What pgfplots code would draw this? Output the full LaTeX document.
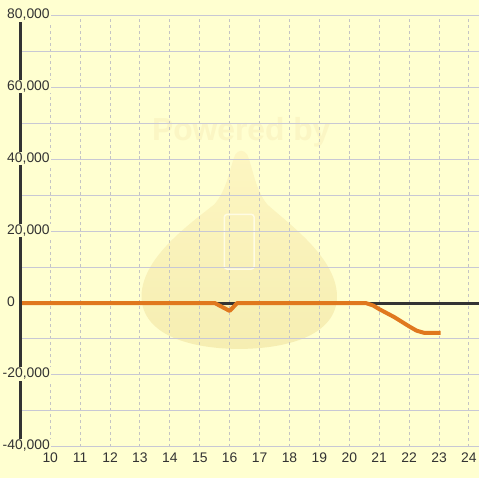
\documentclass[border=0pt]{standalone}
\usepackage{fontspec}
\setmainfont{Liberation Sans}
\usepackage{pgfplots}
\pgfplotsset{compat=1.18}
\definecolor{bgc}{RGB}{255,255,208}
\definecolor{orangeline}{RGB}{224,120,30}
\definecolor{axisdark}{RGB}{51,51,51}
\definecolor{hgrid}{RGB}{200,200,212}
\definecolor{vgrid}{RGB}{196,196,196}
\definecolor{wm}{RGB}{253,246,194}
\definecolor{wmdark}{RGB}{246,238,178}
\definecolor{wmtext}{RGB}{251,246,196}
\definecolor{wmline}{RGB}{255,252,228}
\definecolor{textc}{RGB}{51,51,51}
\tikzset{
  ylab/.style={anchor=west, xshift=-15bp, yshift=1bp, fill=bgc, inner sep=1bp, text=textc, font=\fontsize{14}{14}\selectfont},
  ylabn/.style={ylab, xshift=-4.5bp},
  xlab/.style={anchor=north, yshift=-6bp, inner sep=0pt, text=textc, font=\fontsize{14}{14}\selectfont},
}
\begin{document}
\begin{tikzpicture}
\begin{scope}[x=1bp,y=1bp]
\path[use as bounding box, fill=bgc] (0,0) rectangle (480,480);
\shade[top color=wm, bottom color=wmdark] (236,325) .. controls (240,330) and (244,330) .. (248,325) .. controls (254,310) and (256,290) .. (268,275) .. controls (290,255) and (340,220) .. (338,180) .. controls (335,140) and (280,130) .. (240,130) .. controls (200,130) and (145,140) .. (142,180) .. controls (140,220) and (190,255) .. (215,275) .. controls (228,290) and (230,310) .. (236,325) -- cycle;
\draw[wmline, line width=1.5bp, rounded corners=3bp] (225,210) rectangle (255,265);
\node[text=wmtext, font=\bfseries\fontsize{32}{32}\selectfont] at (242,347) {Powered by};
\end{scope}
\begin{axis}[
  at={(21bp,32bp)}, anchor=south west, scale only axis,
  width=459bp, height=432bp,
  xmin=9.02, xmax=24.32, ymin=-40000, ymax=80000,
  clip=false,
  axis line style={draw=none},
  scaled y ticks=false,
  xtick={10,...,24},
  xticklabels={},
  ytick={-40000,-20000,0,20000,40000,60000,80000},
  yticklabels={},
  minor ytick={-30000,-10000,10000,30000,50000,70000},
  xmajorgrids, ymajorgrids, yminorgrids,
  x grid style={vgrid, dash pattern=on 3bp off 3bp, line width=1bp},
  y grid style={hgrid, line width=1bp},
  minor y grid style={hgrid, line width=1bp},
  tick style={draw=none},
  major tick length=0pt, minor tick length=0pt,
]
\draw[axisdark, line width=3bp] (axis cs:9.02,0) -- (axis cs:24.32,0);
\addplot[orangeline, line width=4bp, line join=round] coordinates {
(9.0,0) (15.5,0) (16,-2200) (16.25,0) (20.55,0) (20.8,-700) (21,-1700) (21.5,-3900) (22,-6500) (22.25,-7700) (22.5,-8300) (23.05,-8300)
};
\draw[axisdark, line width=3bp] (axis cs:9.0,-40000) -- (axis cs:9.0,80000);
\node[ylab] at (axis cs:9.02,80000) {80,000};
\node[ylab] at (axis cs:9.02,60000) {60,000};
\node[ylab] at (axis cs:9.02,40000) {40,000};
\node[ylab] at (axis cs:9.02,20000) {20,000};
\node[ylab] at (axis cs:9.02,0) {0};
\node[ylabn] at (axis cs:9.02,-20000) {-20,000};
\node[ylabn] at (axis cs:9.02,-40000) {-40,000};
\node[xlab] at (axis cs:10,-40000) {10};
\node[xlab] at (axis cs:11,-40000) {11};
\node[xlab] at (axis cs:12,-40000) {12};
\node[xlab] at (axis cs:13,-40000) {13};
\node[xlab] at (axis cs:14,-40000) {14};
\node[xlab] at (axis cs:15,-40000) {15};
\node[xlab] at (axis cs:16,-40000) {16};
\node[xlab] at (axis cs:17,-40000) {17};
\node[xlab] at (axis cs:18,-40000) {18};
\node[xlab] at (axis cs:19,-40000) {19};
\node[xlab] at (axis cs:20,-40000) {20};
\node[xlab] at (axis cs:21,-40000) {21};
\node[xlab] at (axis cs:22,-40000) {22};
\node[xlab] at (axis cs:23,-40000) {23};
\node[xlab] at (axis cs:24,-40000) {24};
\end{axis}
\end{tikzpicture}
\end{document}
